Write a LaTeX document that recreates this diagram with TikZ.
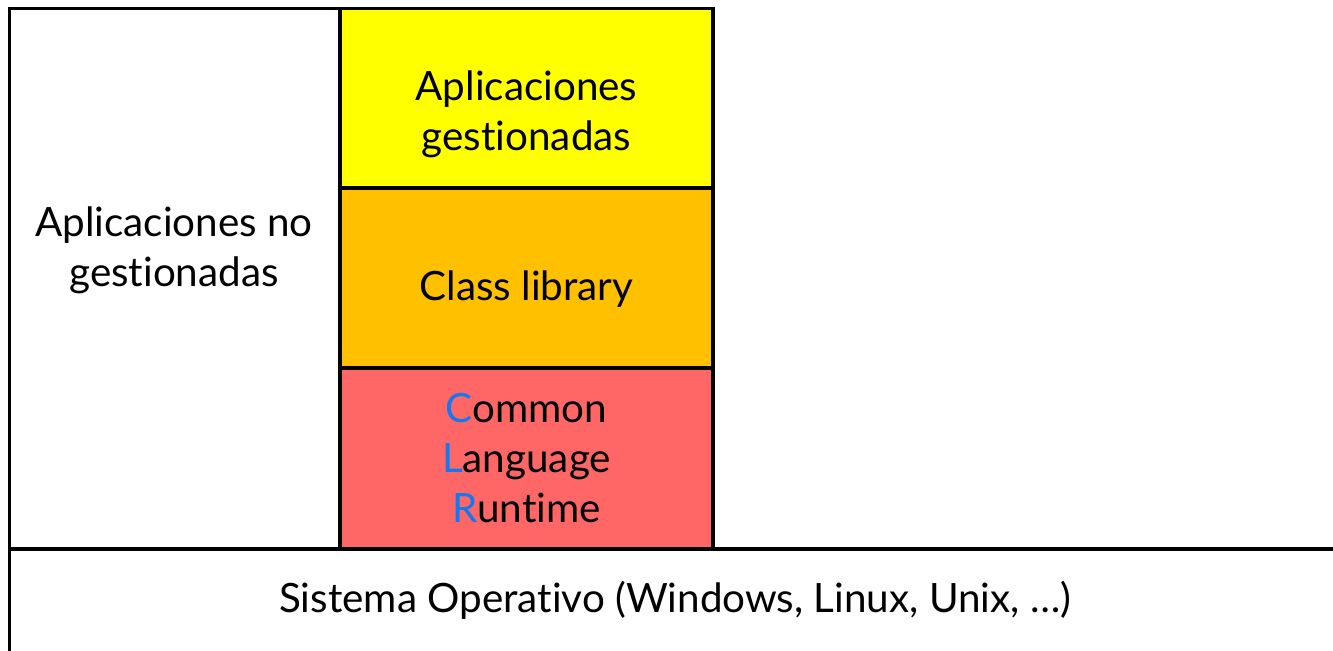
\documentclass[tikz,border=0pt]{standalone}
\usepackage{fontspec}
\setmainfont[RawFeature={-liga}]{Lato}
\definecolor{boxyellow}{HTML}{FFFF00}
\definecolor{boxorange}{HTML}{FFC000}
\definecolor{boxred}{HTML}{FF6666}
\definecolor{clrblue}{RGB}{20,120,240}
\tikzset{
  layer/.style={draw=black, line width=1.7pt, anchor=north west, inner sep=0pt, outer sep=0pt},
  lbl/.style={anchor=base, align=center, inner sep=0pt, font=\fontsize{20.2}{25}\selectfont},
}
\newcommand{\clrL}[1]{\textcolor{clrblue}{#1}}
\begin{document}
\begin{tikzpicture}[x=0.5pt,y=-0.5pt]
\useasboundingbox (0,0) rectangle (1333,650);
\clip (0,0) rectangle (1333,650);
\fill[white] (0,0) rectangle (1333,650);
% boxes
\node[layer, fill=white, minimum width=165.25pt, minimum height=270.25pt] (unmanaged) at (9.5,8.5) {};
\node[layer, fill=boxyellow, minimum width=186.5pt, minimum height=89.75pt] (managed) at (340,8.5) {};
\node[layer, fill=boxorange, minimum width=186.5pt, minimum height=90pt] (classlib) at (340,188) {};
\node[layer, fill=boxred, minimum width=186.5pt, minimum height=90.5pt] (clr) at (340,368) {};
\node[layer, fill=white, minimum width=700pt, minimum height=80pt] (os) at (9.5,549) {};
% labels (base = baseline of the last line)
\node[lbl] (tunmanaged) at (174,286) {Aplicaciones no\\gestionadas};
\node[lbl] (tmanaged) at (526.5,150) {Aplicaciones\\gestionadas};
\node[lbl] (tclasslib) at (526.5,300) {Class library};
\node[lbl] (tclr) at (526.5,522) {\clrL{C}ommon\\\clrL{L}anguage\\\clrL{R}untime};
\node[lbl] (tos) at (675,612) {Sistema Operativo (Windows, Linux, Unix, \ldots)};
\end{tikzpicture}
\end{document}
